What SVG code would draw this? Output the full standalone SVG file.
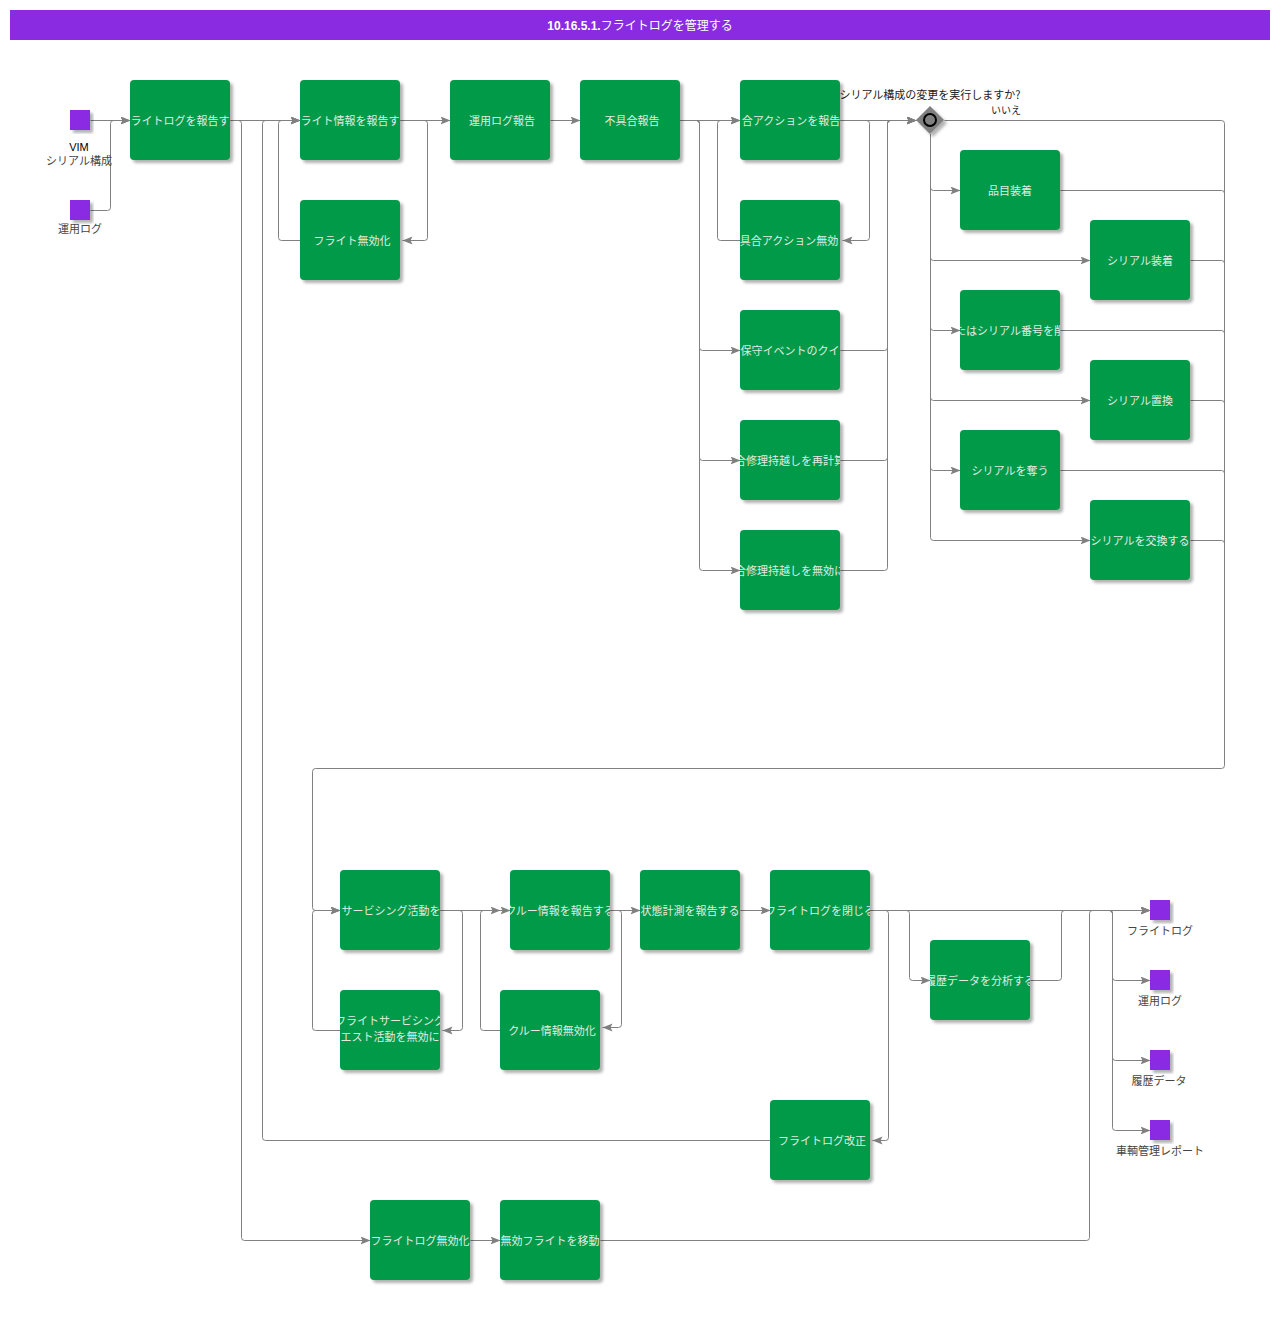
<svg xmlns="http://www.w3.org/2000/svg" width="1280" height="1320" viewBox="0 0 1280 1320">
<style>
.bg{fill:#ffffff}
.title-bar{fill:#8a2be2}
.title{font-family:"Liberation Sans","Noto Sans CJK JP",sans-serif;font-size:12px;fill:#ffffff;text-anchor:middle}
.task{fill:#009a49}
.tt{font-family:"Noto Sans CJK JP","Noto Sans",sans-serif;font-size:11px;fill:#e3ebe3;text-anchor:middle}
.data{fill:#8a2be2}
.dl{font-family:"Noto Sans CJK JP","Noto Sans",sans-serif;font-size:11px;fill:#444444;text-anchor:middle}
.dk{font-family:"Liberation Sans","Noto Sans CJK JP",sans-serif;font-size:11px;fill:#000000;text-anchor:middle}
.q{font-family:"Noto Sans CJK JP","Noto Sans",sans-serif;font-size:11px;fill:#222222;text-anchor:middle}
.no{font-family:"Noto Sans CJK JP","Noto Sans",sans-serif;font-size:10px;fill:#222222;text-anchor:middle}
.c{fill:none;stroke:#808080;stroke-width:1}
.a{fill:none;stroke:#808080;stroke-width:1;marker-end:url(#arr)}
.gw{fill:#808080}
.gc{fill:#808080;stroke:#000000;stroke-width:2}
</style>
<defs>
<filter id="sh" x="-10%" y="-10%" width="130%" height="130%">
<feDropShadow dx="3" dy="3" stdDeviation="1.5" flood-color="#000000" flood-opacity="0.3"/>
</filter>
<marker id="arr" markerUnits="userSpaceOnUse" markerWidth="11" markerHeight="9" refX="10" refY="4" orient="auto">
<path d="M0,0 L10,4 L0,8 L2,4 Z" fill="#808080"/>
</marker>
<clipPath id="k1"><rect x="130" y="80" width="100" height="80"/></clipPath>
<clipPath id="k2"><rect x="300" y="80" width="100" height="80"/></clipPath>
<clipPath id="k3"><rect x="300" y="200" width="100" height="80"/></clipPath>
<clipPath id="k4"><rect x="450" y="80" width="100" height="80"/></clipPath>
<clipPath id="k5"><rect x="580" y="80" width="100" height="80"/></clipPath>
<clipPath id="k6"><rect x="740" y="80" width="100" height="80"/></clipPath>
<clipPath id="k7"><rect x="740" y="200" width="100" height="80"/></clipPath>
<clipPath id="k8"><rect x="740" y="310" width="100" height="80"/></clipPath>
<clipPath id="k9"><rect x="740" y="420" width="100" height="80"/></clipPath>
<clipPath id="k10"><rect x="740" y="530" width="100" height="80"/></clipPath>
<clipPath id="k11"><rect x="960" y="150" width="100" height="80"/></clipPath>
<clipPath id="k12"><rect x="1090" y="220" width="100" height="80"/></clipPath>
<clipPath id="k13"><rect x="960" y="290" width="100" height="80"/></clipPath>
<clipPath id="k14"><rect x="1090" y="360" width="100" height="80"/></clipPath>
<clipPath id="k15"><rect x="960" y="430" width="100" height="80"/></clipPath>
<clipPath id="k16"><rect x="1090" y="500" width="100" height="80"/></clipPath>
<clipPath id="k17"><rect x="340" y="870" width="100" height="80"/></clipPath>
<clipPath id="k18"><rect x="340" y="990" width="100" height="80"/></clipPath>
<clipPath id="k19"><rect x="510" y="870" width="100" height="80"/></clipPath>
<clipPath id="k20"><rect x="500" y="990" width="100" height="80"/></clipPath>
<clipPath id="k21"><rect x="640" y="870" width="100" height="80"/></clipPath>
<clipPath id="k22"><rect x="770" y="870" width="100" height="80"/></clipPath>
<clipPath id="k23"><rect x="930" y="940" width="100" height="80"/></clipPath>
<clipPath id="k24"><rect x="770" y="1100" width="100" height="80"/></clipPath>
<clipPath id="k25"><rect x="370" y="1200" width="100" height="80"/></clipPath>
<clipPath id="k26"><rect x="500" y="1200" width="100" height="80"/></clipPath>
</defs>
<rect class="bg" x="0" y="0" width="1280" height="1320"/>
<g id="title">
<rect class="title-bar" x="10" y="10" width="1260" height="30"/>
<text class="title" x="640" y="30"><tspan font-weight="bold">10.16.5.1.</tspan><tspan font-family="Noto Sans CJK JP, sans-serif">フライトログを管理する</tspan></text>
</g>
<g id="connectors" transform="translate(0.5,0.5)">
<path class="a" d="M90,120 H130"/>
<path class="a" d="M90,210 H107 Q110,210 110,207 V123 Q110,120 113,120 H130"/>
<path class="a" d="M230,120 H300"/>
<path class="a" d="M230,120 H238 Q241,120 241,123 V1237 Q241,1240 244,1240 H370"/>
<path class="a" d="M770,1140 H265 Q262,1140 262,1137 V123 Q262,120 265,120 H300"/>
<path class="a" d="M300,240 H281 Q278,240 278,237 V123 Q278,120 281,120 H300"/>
<path class="a" d="M400,120 H450"/>
<path class="a" d="M400,120 H424 Q427,120 427,123 V237 Q427,240 424,240 H402"/>
<path class="a" d="M550,120 H580"/>
<path class="a" d="M680,120 H740"/>
<path class="a" d="M680,120 H696 Q699,120 699,123 V347 Q699,350 702,350 H740"/>
<path class="a" d="M680,120 H696 Q699,120 699,123 V457 Q699,460 702,460 H740"/>
<path class="a" d="M680,120 H696 Q699,120 699,123 V567 Q699,570 702,570 H740"/>
<path class="a" d="M740,240 H720 Q717,240 717,237 V123 Q717,120 720,120 H740"/>
<path class="a" d="M840,120 H866 Q869,120 869,123 V237 Q869,240 866,240 H842"/>
<path class="a" d="M840,120 H916"/>
<path class="a" d="M840,350 H884 Q887,350 887,347 V123 Q887,120 890,120 H916"/>
<path class="a" d="M840,460 H884 Q887,460 887,457 V123 Q887,120 890,120 H916"/>
<path class="a" d="M840,570 H884 Q887,570 887,567 V123 Q887,120 890,120 H916"/>
<path class="a" d="M944,120 H1221 Q1224,120 1224,123 V765 Q1224,768 1221,768 H315 Q312,768 312,771 V907 Q312,910 315,910 H340"/>
<path class="a" d="M930,134 V187 Q930,190 933,190 H960"/>
<path class="a" d="M930,134 V257 Q930,260 933,260 H1090"/>
<path class="a" d="M930,134 V327 Q930,330 933,330 H960"/>
<path class="a" d="M930,134 V397 Q930,400 933,400 H1090"/>
<path class="a" d="M930,134 V467 Q930,470 933,470 H960"/>
<path class="a" d="M930,134 V537 Q930,540 933,540 H1090"/>
<path class="c" d="M1060,190 H1221 Q1224,190 1224,193"/>
<path class="c" d="M1190,260 H1221 Q1224,260 1224,263"/>
<path class="c" d="M1060,330 H1221 Q1224,330 1224,333"/>
<path class="c" d="M1190,400 H1221 Q1224,400 1224,403"/>
<path class="c" d="M1060,470 H1221 Q1224,470 1224,473"/>
<path class="c" d="M1190,540 H1221 Q1224,540 1224,543"/>
<path class="a" d="M440,910 H500"/>
<path class="a" d="M440,910 H459 Q462,910 462,913 V1027 Q462,1030 459,1030 H442"/>
<path class="a" d="M340,1030 H315 Q312,1030 312,1027 V913 Q312,910 315,910 H340"/>
<path class="a" d="M500,1030 H483 Q480,1030 480,1027 V913 Q480,910 483,910 H510"/>
<path class="a" d="M610,910 H640"/>
<path class="a" d="M610,910 H618 Q621,910 621,913 V1024 Q621,1027 618,1027 H602"/>
<path class="a" d="M740,910 H770"/>
<path class="a" d="M870,910 H1150"/>
<path class="a" d="M870,910 H885 Q888,910 888,913 V1137 Q888,1140 885,1140 H872"/>
<path class="a" d="M870,910 H906 Q909,910 909,913 V977 Q909,980 912,980 H930"/>
<path class="a" d="M1030,980 H1058 Q1061,980 1061,977 V913 Q1061,910 1064,910 H1150"/>
<path class="a" d="M1100,910 H1109 Q1112,910 1112,913 V977 Q1112,980 1115,980 H1150"/>
<path class="a" d="M1100,910 H1109 Q1112,910 1112,913 V1057 Q1112,1060 1115,1060 H1150"/>
<path class="a" d="M1100,910 H1109 Q1112,910 1112,913 V1127 Q1112,1130 1115,1130 H1150"/>
<path class="a" d="M600,1240 H1086 Q1089,1240 1089,1237 V913 Q1089,910 1092,910 H1150"/>
<path class="a" d="M470,1240 H500"/>
</g>
<g id="d-vim">
<rect class="data" x="70" y="110" width="20" height="20" filter="url(#sh)"/>
<text class="dk" x="79" y="151">VIM</text>
<text class="dl" x="79" y="165">シリアル構成</text>
</g>
<g id="d-oplog-in">
<rect class="data" x="70" y="200" width="20" height="20" filter="url(#sh)"/>
<text class="dl" x="80" y="233">運用ログ</text>
</g>
<g id="d-flightlog-out">
<rect class="data" x="1150" y="900" width="20" height="20" filter="url(#sh)"/>
<text class="dl" x="1160" y="935">フライトログ</text>
</g>
<g id="d-oplog-out">
<rect class="data" x="1150" y="970" width="20" height="20" filter="url(#sh)"/>
<text class="dl" x="1160" y="1005">運用ログ</text>
</g>
<g id="d-history-out">
<rect class="data" x="1150" y="1050" width="20" height="20" filter="url(#sh)"/>
<text class="dl" x="1159" y="1085">履歴データ</text>
</g>
<g id="d-report-out">
<rect class="data" x="1150" y="1120" width="20" height="20" filter="url(#sh)"/>
<text class="dl" x="1160" y="1155">車輌管理レポート</text>
</g>
<g id="gw-serial">
<path class="gw" d="M930,106 L944,120 L930,134 L916,120 Z" filter="url(#sh)"/>
<circle class="gc" cx="930" cy="120" r="6"/>
<text class="q" x="930" y="99">シリアル構成の変更を実行しますか?</text>
<text class="no" x="1006" y="114">いいえ</text>
</g>
<g id="n1"><rect class="task" x="130" y="80" width="100" height="80" rx="4" filter="url(#sh)"/><text class="tt" x="180" y="125" clip-path="url(#k1)">ライトログを報告す</text></g>
<g id="n2"><rect class="task" x="300" y="80" width="100" height="80" rx="4" filter="url(#sh)"/><text class="tt" x="350" y="125" clip-path="url(#k2)">ライト情報を報告す</text></g>
<g id="n3"><rect class="task" x="300" y="200" width="100" height="80" rx="4" filter="url(#sh)"/><text class="tt" x="352" y="245" clip-path="url(#k3)">フライト無効化</text></g>
<g id="n4"><rect class="task" x="450" y="80" width="100" height="80" rx="4" filter="url(#sh)"/><text class="tt" x="502" y="125" clip-path="url(#k4)">運用ログ報告</text></g>
<g id="n5"><rect class="task" x="580" y="80" width="100" height="80" rx="4" filter="url(#sh)"/><text class="tt" x="632" y="125" clip-path="url(#k5)">不具合報告</text></g>
<g id="n6"><rect class="task" x="740" y="80" width="100" height="80" rx="4" filter="url(#sh)"/><text class="tt" x="791" y="125" clip-path="url(#k6)">合アクションを報告</text></g>
<g id="n7"><rect class="task" x="740" y="200" width="100" height="80" rx="4" filter="url(#sh)"/><text class="tt" x="789" y="245" clip-path="url(#k7)">具合アクション無効</text></g>
<g id="n8"><rect class="task" x="740" y="310" width="100" height="80" rx="4" filter="url(#sh)"/><text class="tt" x="790" y="355" clip-path="url(#k8)">保守イベントのクイ</text></g>
<g id="n9"><rect class="task" x="740" y="420" width="100" height="80" rx="4" filter="url(#sh)"/><text class="tt" x="790" y="465" clip-path="url(#k9)">合修理持越しを再計算</text></g>
<g id="n10"><rect class="task" x="740" y="530" width="100" height="80" rx="4" filter="url(#sh)"/><text class="tt" x="790" y="575" clip-path="url(#k10)">合修理持越しを無効に</text></g>
<g id="n11"><rect class="task" x="960" y="150" width="100" height="80" rx="4" filter="url(#sh)"/><text class="tt" x="1010" y="195" clip-path="url(#k11)">品目装着</text></g>
<g id="n12"><rect class="task" x="1090" y="220" width="100" height="80" rx="4" filter="url(#sh)"/><text class="tt" x="1140" y="265" clip-path="url(#k12)">シリアル装着</text></g>
<g id="n13"><rect class="task" x="960" y="290" width="100" height="80" rx="4" filter="url(#sh)"/><text class="tt" x="1010" y="335" clip-path="url(#k13)">たはシリアル番号を削</text></g>
<g id="n14"><rect class="task" x="1090" y="360" width="100" height="80" rx="4" filter="url(#sh)"/><text class="tt" x="1140" y="405" clip-path="url(#k14)">シリアル置換</text></g>
<g id="n15"><rect class="task" x="960" y="430" width="100" height="80" rx="4" filter="url(#sh)"/><text class="tt" x="1010" y="475" clip-path="url(#k15)">シリアルを奪う</text></g>
<g id="n16"><rect class="task" x="1090" y="500" width="100" height="80" rx="4" filter="url(#sh)"/><text class="tt" x="1140" y="545" clip-path="url(#k16)">シリアルを交換する</text></g>
<g id="n17"><rect class="task" x="340" y="870" width="100" height="80" rx="4" filter="url(#sh)"/><text class="tt" x="391" y="915" clip-path="url(#k17)">サービシング活動を</text></g>
<g id="n18"><rect class="task" x="340" y="990" width="100" height="80" rx="4" filter="url(#sh)"/><text class="tt" clip-path="url(#k18)"><tspan x="390" y="1025">フライトサービシング</tspan><tspan x="390" y="1041">エスト活動を無効に</tspan></text></g>
<g id="n19"><rect class="task" x="510" y="870" width="100" height="80" rx="4" filter="url(#sh)"/><text class="tt" x="560" y="915" clip-path="url(#k19)">クルー情報を報告する</text></g>
<g id="n20"><rect class="task" x="500" y="990" width="100" height="80" rx="4" filter="url(#sh)"/><text class="tt" x="552" y="1035" clip-path="url(#k20)">クルー情報無効化</text></g>
<g id="n21"><rect class="task" x="640" y="870" width="100" height="80" rx="4" filter="url(#sh)"/><text class="tt" x="690" y="915" clip-path="url(#k21)">状態計測を報告する</text></g>
<g id="n22"><rect class="task" x="770" y="870" width="100" height="80" rx="4" filter="url(#sh)"/><text class="tt" x="820" y="915" clip-path="url(#k22)">フライトログを閉じる</text></g>
<g id="n23"><rect class="task" x="930" y="940" width="100" height="80" rx="4" filter="url(#sh)"/><text class="tt" x="980" y="985" clip-path="url(#k23)">履歴データを分析する</text></g>
<g id="n24"><rect class="task" x="770" y="1100" width="100" height="80" rx="4" filter="url(#sh)"/><text class="tt" x="822" y="1145" clip-path="url(#k24)">フライトログ改正</text></g>
<g id="n25"><rect class="task" x="370" y="1200" width="100" height="80" rx="4" filter="url(#sh)"/><text class="tt" x="420" y="1245" clip-path="url(#k25)">フライトログ無効化</text></g>
<g id="n26"><rect class="task" x="500" y="1200" width="100" height="80" rx="4" filter="url(#sh)"/><text class="tt" x="550" y="1245" clip-path="url(#k26)">無効フライトを移動</text></g>
</svg>
